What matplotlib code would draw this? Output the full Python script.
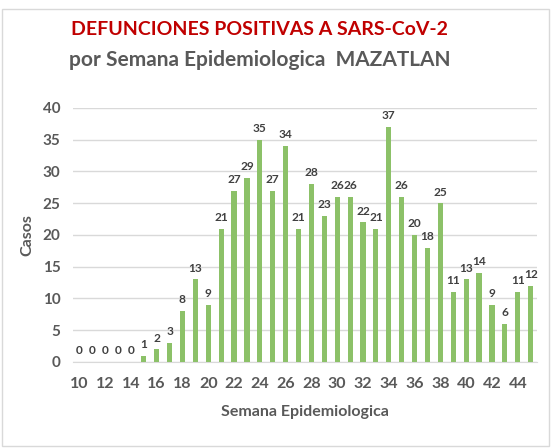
import matplotlib.pyplot as plt
from matplotlib.patches import Rectangle

# semanas epidemiologicas y defunciones por semana
semanas = list(range(10, 46))
defunciones = [0, 0, 0, 0, 0, 1, 2, 3, 8, 13, 9, 21, 27, 29, 35, 27, 34, 21,
               28, 23, 26, 26, 22, 21, 37, 26, 20, 18, 25, 11, 13, 14, 9, 6, 11, 12]
etiquetas_x = [str(s) for s in range(10, 46, 2)]

plt.rcParams['font.family'] = ['Lato', 'DejaVu Sans']
gris = '#595959'
verde = '#8CC168'

fig = plt.figure(figsize=(5.52, 4.48), dpi=100)
fig.patches.append(Rectangle((0.004, 0.004), 0.99, 0.975, transform=fig.transFigure,
                             fill=False, edgecolor='#d9d9d9', linewidth=1))

ax = fig.add_axes([0.132, 0.192, 0.841, 0.567])
ax.bar(semanas, defunciones, width=0.4, color=verde, zorder=3)

# etiquetas de valor encima de cada barra
for s, v in zip(semanas, defunciones):
    ax.text(s, v + 0.9, str(v), ha='center', va='bottom', fontsize=8.6,
            fontweight='bold', color='#404040')

ax.set_xlim(9.5, 45.5)
ax.set_ylim(0, 40)
ax.set_yticks(range(0, 41, 5))
ax.set_xticks(range(10, 46, 2))
ax.set_xticklabels(etiquetas_x)
ax.yaxis.grid(True, color='#d9d9d9', linewidth=1, zorder=0)
ax.set_axisbelow(True)
for lado in ['top', 'right', 'left']:
    ax.spines[lado].set_visible(False)
ax.spines['bottom'].set_color('#d9d9d9')
ax.tick_params(axis='x', length=0, labelsize=11.5, labelcolor=gris, pad=11)
ax.tick_params(axis='y', length=0, labelsize=11, labelcolor=gris, pad=9)
for lbl in ax.get_xticklabels() + ax.get_yticklabels():
    lbl.set_fontweight('bold')

ax.set_xlabel('Semana Epidemiologica', fontsize=11.5, fontweight='bold', color=gris, labelpad=10)
ax.set_ylabel('Casos', fontsize=11.5, fontweight='bold', color=gris, labelpad=6)

fig.text(0.47, 0.935, 'DEFUNCIONES POSITIVAS A SARS-CoV-2', ha='center', va='center',
         fontsize=14, fontweight='bold', color='#C00000')
fig.text(0.47, 0.865, 'por Semana Epidemiologica  MAZATLAN', ha='center', va='center',
         fontsize=15, fontweight='bold', color=gris)

plt.savefig('out.png', dpi=100)
